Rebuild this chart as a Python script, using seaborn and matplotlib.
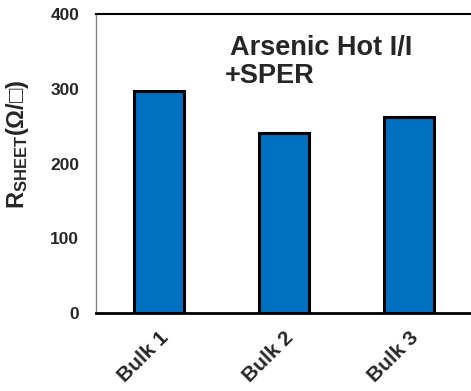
import numpy as np
import pandas as pd
import matplotlib
matplotlib.use('Agg')
import matplotlib.pyplot as plt
import seaborn as sns

# datos
muestras = ['Bulk 1', 'Bulk 2', 'Bulk 3']
rsheet = [297, 241, 262]
yticks = [0, 100, 200, 300, 400]

AZUL = '#0070C0'

sns.set_style('white')
plt.rcParams['font.family'] = ['Liberation Sans', 'DejaVu Sans']
plt.rcParams['font.weight'] = 'bold'
plt.rcParams['mathtext.fontset'] = 'custom'
plt.rcParams['mathtext.rm'] = 'Liberation Sans:bold'
plt.rcParams['mathtext.default'] = 'rm'

df = pd.DataFrame({'muestra': muestras, 'rsheet': rsheet})

fig = plt.figure(figsize=(4.71, 3.91), dpi=100)
ax = fig.add_axes([96/471, 1 - 313/391, 1 - 96/471, (313 - 14)/391])

sns.barplot(data=df, x='muestra', y='rsheet', color=AZUL, width=0.4,
            edgecolor='black', linewidth=2.2, saturation=1, ax=ax)

ax.set_xlim(-0.5, 2.5)
ax.set_ylim(0, 400)
ax.set_yticks(yticks)
ax.tick_params(axis='y', direction='out', length=5, width=1, color='#808080',
               labelsize=12.5, pad=7)
ax.tick_params(axis='x', length=0, labelsize=15, pad=11)
for lbl in ax.get_xticklabels():
    lbl.set_rotation(45)
    lbl.set_ha('right')
    lbl.set_rotation_mode('anchor')
    lbl.set_fontweight('bold')
for lbl in ax.get_yticklabels():
    lbl.set_fontweight('bold')

ax.set_xlabel('')
ax.set_ylabel(r'R$_{\rm SHEET}$(Ω/□)', fontsize=17, fontweight='bold')
ax.yaxis.set_label_coords(-0.172, 0.565)

ax.spines['left'].set_color('#808080')
ax.spines['left'].set_linewidth(1)
ax.spines['bottom'].set_color('black')
ax.spines['bottom'].set_linewidth(2)
ax.spines['top'].set_visible(True)
ax.spines['top'].set_color('black')
ax.spines['top'].set_linewidth(1.5)
ax.spines['right'].set_visible(False)

ax.text(0.357, 0.93, 'Arsenic Hot I/I', transform=ax.transAxes, fontsize=19.5,
        fontweight='bold', ha='left', va='top')
ax.text(0.343, 0.835, '+SPER', transform=ax.transAxes, fontsize=19.5,
        fontweight='bold', ha='left', va='top')

fig.savefig('out.png', dpi=100, facecolor='white')
